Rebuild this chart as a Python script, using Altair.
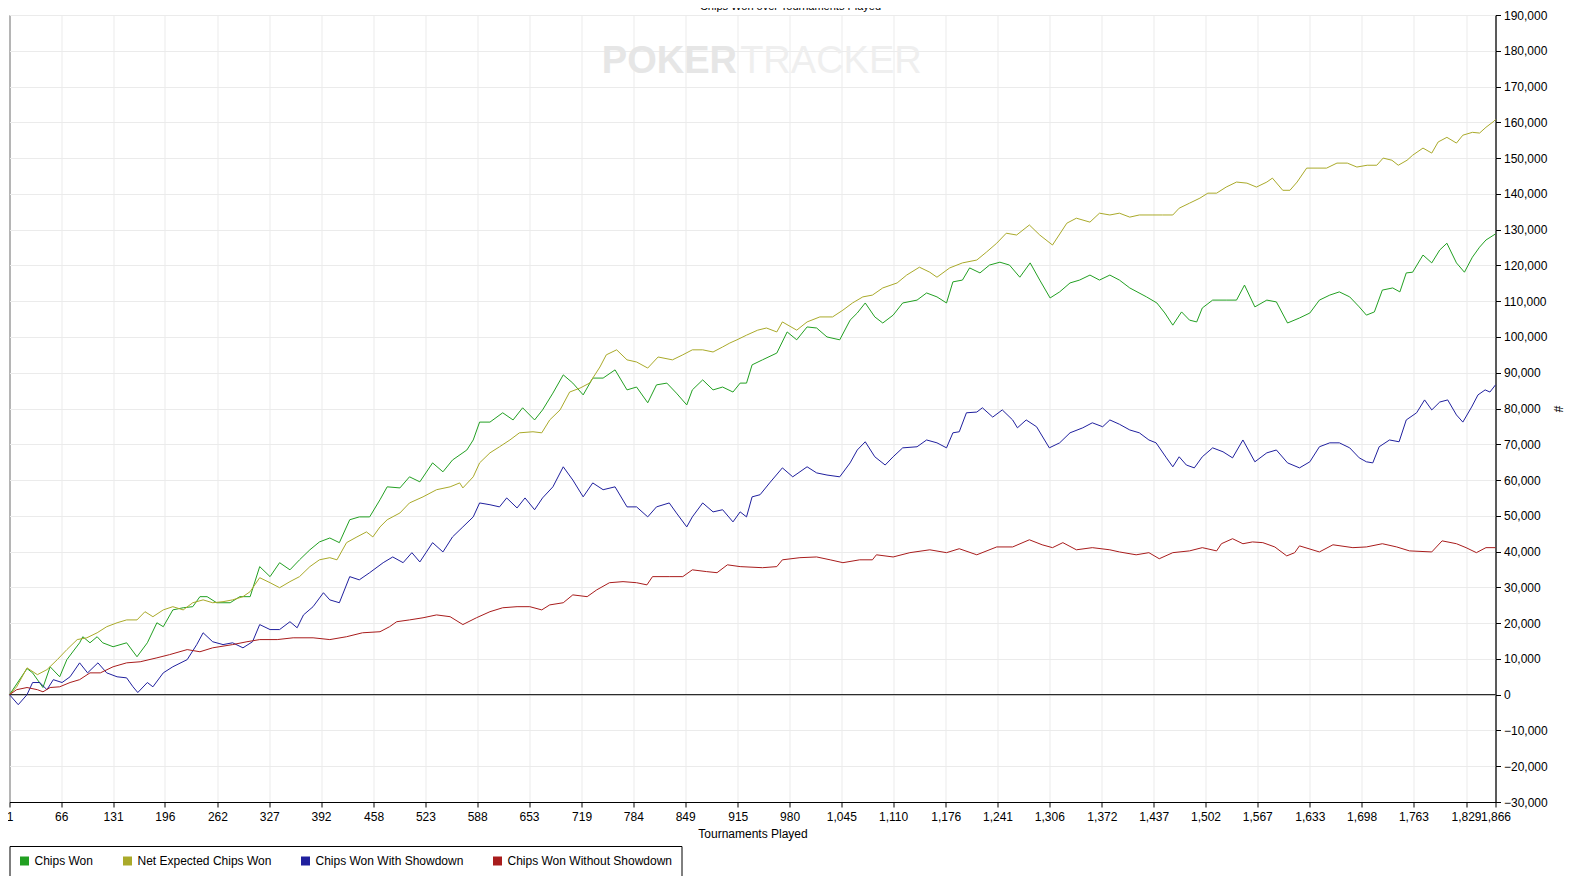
import altair as alt
import pandas as pd

SERIES = ["Chips Won", "Net Expected Chips Won", "Chips Won With Showdown", "Chips Won Without Showdown"]
COLORS = ["#22a022", "#aaaa2a", "#20209e", "#a81c1c"]

X_TICKS = [1, 66, 131, 196, 262, 327, 392, 458, 523, 588, 653, 719, 784, 849, 915, 980,
           1045, 1110, 1176, 1241, 1306, 1372, 1437, 1502, 1567, 1633, 1698, 1763, 1829, 1866]
Y_TICKS = [-30000, -20000, -10000, 0, 10000, 20000, 30000, 40000, 50000, 60000, 70000, 80000,
           90000, 100000, 110000, 120000, 130000, 140000, 150000, 160000, 170000, 180000, 190000]

# Chips Won
won_t = [1, 23, 30, 43, 52, 64, 73, 89, 93, 102, 111, 118, 131, 148, 161, 174, 186, 194, 206, 219,
         231, 240, 249, 261, 278, 290, 303, 315, 328, 340, 353, 365, 378, 390, 403, 415, 428, 440, 453, 466,
         475, 491, 503, 516, 532, 545, 557, 575, 583, 591, 604, 620, 633, 645, 660, 670, 683, 696, 708, 721,
         733, 746, 761, 776, 788, 802, 813, 826, 838, 851, 858, 871, 884, 896, 909, 918, 926, 933, 946, 964,
         977, 989, 1002, 1014, 1027, 1043, 1056, 1065, 1075, 1087, 1097, 1110, 1122, 1140, 1152, 1165, 1177,
         1185, 1197, 1206, 1219, 1231, 1244, 1256, 1269, 1282, 1294, 1307, 1319, 1332, 1344, 1357, 1369,
         1382, 1394, 1407, 1428, 1441, 1451, 1461, 1472, 1482, 1491, 1498, 1511, 1528, 1541, 1551, 1564,
         1579, 1591, 1605, 1620, 1633, 1645, 1658, 1670, 1683, 1695, 1704, 1714, 1724, 1737, 1746, 1754,
         1762, 1775, 1786, 1796, 1805, 1817, 1827, 1837, 1846, 1854, 1866]
won_v = [0, 7300, 6100, 2000, 7800, 5000, 9800, 14500, 16200, 14500, 16200, 14500, 13400, 14500, 10600,
         14500, 20100, 19000, 23700, 24300, 24600, 27400, 27400, 25700, 25700, 27400, 27400, 35800, 33000,
         36900, 34900, 37700, 40500, 42700, 43800, 42500, 48900, 49700, 49700, 54500,
         58100, 57800, 60900, 59500, 64800, 62300, 65600, 68400, 71200, 76200, 76200, 78800, 76800, 80200,
         76800, 79600, 84300, 89400, 87100, 83800, 88500, 88500, 90800, 85200, 86000, 81600, 86600, 87100,
         84300, 81000, 85200, 88000, 85200, 86000, 84600, 87100, 87100, 92200, 93600, 95500,
         101400, 99200, 102800, 102500, 100000, 99200, 104700, 106700, 109500, 105600, 103900, 106100,
         109500, 110300, 112300, 111200, 109500, 115400, 115900, 119300, 117900, 120100, 120900, 120100,
         116700, 120700, 115900, 110900, 112600, 115100, 115900, 117300, 115900, 117300, 115900, 113700,
         111200, 109500, 106700, 103300, 107000, 104700, 104200, 108100, 110300, 110300, 110300, 114500,
         108400, 110300, 109800, 103900, 105300, 106700, 110300, 111700, 112600, 111200, 108400, 106100,
         107000, 113100, 113700, 112600, 117900, 118100, 122900, 120700, 124300, 126200, 120700, 118100,
         122300, 125100, 127100, 128800]

# Net Expected Chips Won
exp_t = [1, 10, 23, 36, 48, 61, 73, 86, 98, 111, 123, 136, 148, 161, 171, 181, 194, 206, 219, 231,
         244, 256, 269, 281, 294, 303, 315, 328, 340, 353, 365, 378, 390, 403, 412, 424, 437, 449, 457, 466,
         475, 491, 503, 520, 537, 554, 566, 570, 583, 591, 604, 616, 629, 641, 658, 669, 679, 692, 704, 717,
         729, 742, 750, 763, 776, 788, 802, 815, 833, 846, 858, 871, 884, 896, 905, 914, 926, 940,
         951, 964, 971, 989, 1002, 1018, 1034, 1047, 1059, 1072, 1084, 1097, 1115, 1127, 1143, 1156, 1165,
         1181, 1197, 1215, 1227, 1240, 1252, 1265, 1281, 1294, 1310, 1328, 1340, 1357, 1369, 1382, 1394,
         1407, 1419, 1435, 1448, 1461, 1469, 1482, 1495, 1505, 1516, 1528, 1541, 1554, 1566, 1579, 1586,
         1599, 1608, 1617, 1629, 1642, 1654, 1667, 1680, 1692, 1705, 1717, 1725, 1736, 1744, 1755, 1762,
         1775, 1786, 1794, 1805, 1817, 1825, 1837, 1846, 1854, 1864, 1866]
exp_v = [0, 2200, 7500, 5600, 7000, 9800, 12600, 15400, 15900, 17300, 19000, 20100, 20900, 20900, 23200,
         21800, 23700, 24600, 23700, 25700, 26500, 25700, 26000, 26500, 27400, 28800, 32700, 31300, 29900,
         31600, 33000, 35800, 37700, 38300, 37700, 42500, 44100, 45500, 44100, 46900,
         48900, 50800, 53600, 55300, 57300, 58100, 59200, 57800, 60900, 64800, 67600, 69300, 71200, 73200,
         73500, 73200, 76800, 79600, 84600, 85700, 87100, 91600, 95000, 96400, 93600, 93000, 91300, 94400,
         93600, 95000, 96400, 96400, 95800, 97200, 98300, 99200, 100500, 101900,
         102500, 101400, 104200, 101900, 104200, 105600, 105600, 107500, 109500, 111200, 111700, 113700,
         115100, 117300, 119500, 118100, 116700, 119300, 120700, 121500, 123700, 126200, 129000, 128500,
         131300, 128500, 125700, 131800, 133200, 132100, 134600, 134100, 134600,
         133500, 134100, 134100, 134100, 134100, 136000, 137400, 138800, 140200, 140200, 141900, 143300,
         143000, 141900, 143300, 144400, 141000, 141000, 143300, 147200, 147200, 147200, 148600, 148600,
         147500, 148000, 148000, 150000, 149400, 148000, 149400, 150800, 152800, 151400, 154500, 155800,
         154200, 156400, 157200, 157000, 158600, 160300, 160800]

# Chips Won With Showdown
sd_t = [1, 12, 23, 30, 39, 48, 56, 67, 77, 89, 99, 112, 123, 136, 148, 156, 162, 174, 181, 194, 206,
        224, 236, 244, 256, 269, 281, 294, 306, 315, 328, 340, 353, 362, 370, 382, 395, 403, 415, 428,
        440, 453, 470, 482, 495, 506, 516, 532, 545, 557, 570, 583, 591, 604, 616, 625, 638, 648, 660,
        670, 683, 696, 708, 721, 733, 746, 761, 776, 788, 802, 813, 829, 838, 851, 858, 871, 884, 896,
        909, 918, 926, 933, 943, 955, 971, 984, 1002, 1014, 1027, 1043, 1056, 1065, 1075, 1087, 1100,
        1110, 1122, 1140, 1152, 1165, 1177, 1185, 1193, 1202, 1215, 1222, 1235, 1247, 1260, 1266, 1277,
        1290, 1306, 1319, 1332, 1348, 1360, 1373, 1382, 1394, 1407, 1419, 1431, 1440, 1453, 1461, 1469,
        1478, 1488, 1498, 1511, 1524, 1536, 1549, 1564, 1579, 1591, 1605, 1620, 1633, 1645, 1658, 1670,
        1683, 1695, 1704, 1712, 1720, 1733, 1745, 1754, 1767, 1777, 1786, 1796, 1806, 1817, 1825, 1836,
        1844, 1853, 1859, 1866]
sd_v = [0, -2800, 0, 3400, 3400, 1400, 4200, 3400, 5000, 8900, 6100, 8900, 6100, 5000, 4700, 2200, 600,
        3400, 2200, 6100, 7800, 9800, 14000, 17300, 14800, 14000, 14500, 13100, 14800, 19600, 18200,
        18200, 20400, 18700, 22300, 24600, 28500, 26500, 25700, 33000, 32100, 34100, 36900, 38500, 36900,
        39700, 37100, 42500, 39900, 44100, 46900, 49700, 53600, 53100, 52500, 55000, 52200, 55000, 51700,
        55000, 58100, 63700, 60000, 55300, 59200, 57300, 58100, 52500, 52500, 49700, 52500, 53600, 50800,
        46900, 49700, 53600, 51100, 51700, 48300, 51100, 49700, 55300, 55900, 59200, 63400, 60900, 63700,
        62000, 61400, 60900, 64800, 68400, 70700, 66500, 64200, 66500, 69000, 69300, 71200, 70400, 69000,
        73200, 73500, 78800, 79000, 80200, 77600, 79600, 76800, 74600, 76800, 74900, 69000, 70400, 73200,
        74600, 76000, 74900, 76800, 75600, 74000, 73200, 71200, 70400, 66200, 63700, 66500, 64200, 63400,
        66500, 69000, 67900, 66200, 71200, 65100, 67600, 68400, 64800, 63400, 65100, 69300, 70400, 70400,
        69000, 66200, 65100, 64800, 69300, 71200, 70700, 76800, 78800, 82400, 79600, 81800, 82400, 78200,
        76200, 80400, 83800, 85200, 84600, 86600]

# Chips Won Without Showdown
nsd_t = [1, 10, 23, 36, 43, 52, 64, 77, 89, 102, 115, 131, 148, 165, 186, 202, 224, 240, 256, 281,
         299, 315, 337, 357, 382, 403, 424, 444, 466, 478, 487, 503, 520, 537, 554, 570, 587, 604, 620,
         638, 654, 669, 679, 696, 708, 726, 738, 754, 771, 788, 801, 808, 829, 846, 858, 876, 889, 902,
         918, 946, 964, 971, 993, 1014, 1031, 1047, 1068, 1084, 1089, 1110, 1131, 1156, 1177, 1193, 1215,
         1240, 1260, 1281, 1297, 1310, 1323, 1340, 1360, 1382, 1394, 1415, 1431, 1444, 1461, 1482, 1498,
         1516, 1522, 1536, 1549, 1561, 1574, 1589, 1604, 1614, 1620, 1645, 1662, 1687, 1704, 1724, 1742,
         1758, 1786, 1799, 1817, 1829, 1842, 1854, 1866]
nsd_v = [0, 1400, 2000, 1400, 800, 2000, 2200, 3400, 4200, 6100, 6100, 7800, 8900, 9200, 10300, 11200,
         12600, 12000, 13100, 14000, 14800, 15400, 15400, 15900, 15900, 15400, 16200, 17300, 17600, 19000,
         20400, 20900, 21500, 22300, 21800, 19600, 21500, 23200, 24300, 24600, 24600, 23700, 25100, 25700,
         27900, 27400, 29300, 31300, 31600, 31300, 30700, 33000, 33000, 33000, 34900, 34400, 34100, 36300,
         35800, 35500, 35800, 37700, 38300, 38500, 37700, 36900, 37700, 37700, 39100, 38500, 39700, 40500,
         39700, 40800, 39100, 41300, 41300, 43300, 41900, 41100, 42500, 40500, 41100, 40500, 39900, 39100,
         39700, 38000, 39700, 40200, 41100, 40200, 42200, 43600, 42200, 42700, 42500, 41300, 38800, 39700,
         41600, 39900, 41900, 41100, 41300, 42200, 41300, 40200, 39900, 43000, 42200, 41100, 39700, 41100,
         41100]

WATERMARK_T = [914, 918]
WATERMARK_V = [177000, 177000]
WATERMARK_TEXT = ["POKER", "TRACKER"]

rows = []
for i, (name, ts, vs) in enumerate(zip(SERIES, [won_t, exp_t, sd_t, nsd_t], [won_v, exp_v, sd_v, nsd_v])):
    assert len(ts) == len(vs), name
    for t, v in zip(ts, vs):
        rows.append({"series": name, "t": t, "v": v, "k": i})
df = pd.DataFrame(rows)
wm = pd.DataFrame({"t": WATERMARK_T, "v": WATERMARK_V, "label": WATERMARK_TEXT})

FONT = "Liberation Sans"

x_enc = alt.X("t:Q", scale=alt.Scale(domain=[1, 1866], nice=False, zero=False),
              axis=alt.Axis(values=X_TICKS, format=",d", title="Tournaments Played",
                            labelOverlap=False, labelFlush=False, labelPadding=4, titlePadding=6))
y_enc = alt.Y("v:Q", scale=alt.Scale(domain=[-30000, 190000], nice=False),
              axis=alt.Axis(orient="right", values=Y_TICKS, format=",d", title="#",
                            labelPadding=3, titlePadding=3, labelFlush=False))

wm1 = alt.Chart(wm.iloc[[0]]).mark_text(
    font=FONT, fontSize=38, fontWeight="bold", color="#e6e6e6", align="right",
    baseline="middle").encode(x=x_enc, y=y_enc, text="label:N")
wm2 = alt.Chart(wm.iloc[[1]]).mark_text(
    font=FONT, fontSize=38, fontWeight="normal", color="#efefef", align="left",
    baseline="middle").encode(x=x_enc, y=y_enc, text="label:N")

lines = alt.Chart(df).mark_line(strokeWidth=1).encode(
    x=x_enc, y=y_enc,
    color=alt.Color("series:N", scale=alt.Scale(domain=SERIES, range=COLORS),
                    legend=alt.Legend(title=None, orient="none", legendX=0, legendY=831,
                                      direction="horizontal", symbolType="square", symbolSize=16,
                                      symbolStrokeWidth=5, labelFontSize=12, labelFont=FONT,
                                      labelColor="black", columnPadding=22, labelOffset=4,
                                      labelLimit=400, padding=9, strokeColor="black",
                                      fillColor="white")),
    order="t:Q",
)

zero = alt.Chart(pd.DataFrame({"v": [0]})).mark_rule(color="black", strokeWidth=1).encode(y=y_enc)

chart = alt.layer(wm1, wm2, zero, lines).properties(
    width=1486, height=787,
    autosize=alt.AutoSizeParams(type="none"),
    padding={"left": 1.5, "top": 7, "right": 70, "bottom": 74},
    title=alt.TitleParams("Chips Won over Tournaments Played", fontSize=11, fontWeight="normal",
                          font=FONT, color="black", offset=-3, dx=38, anchor="middle"),
).configure_view(stroke="black", strokeWidth=1).configure_axis(
    domainColor="black", tickColor="black", tickSize=5, labelColor="black", labelFont=FONT,
    labelFontSize=12, titleFont=FONT, titleFontSize=12, titleFontWeight="normal", titleColor="black",
    gridColor="#ebebeb", grid=True,
).configure_legend(symbolOpacity=1)

chart.save("out.html", embed_options={"renderer": "svg", "actions": False})
